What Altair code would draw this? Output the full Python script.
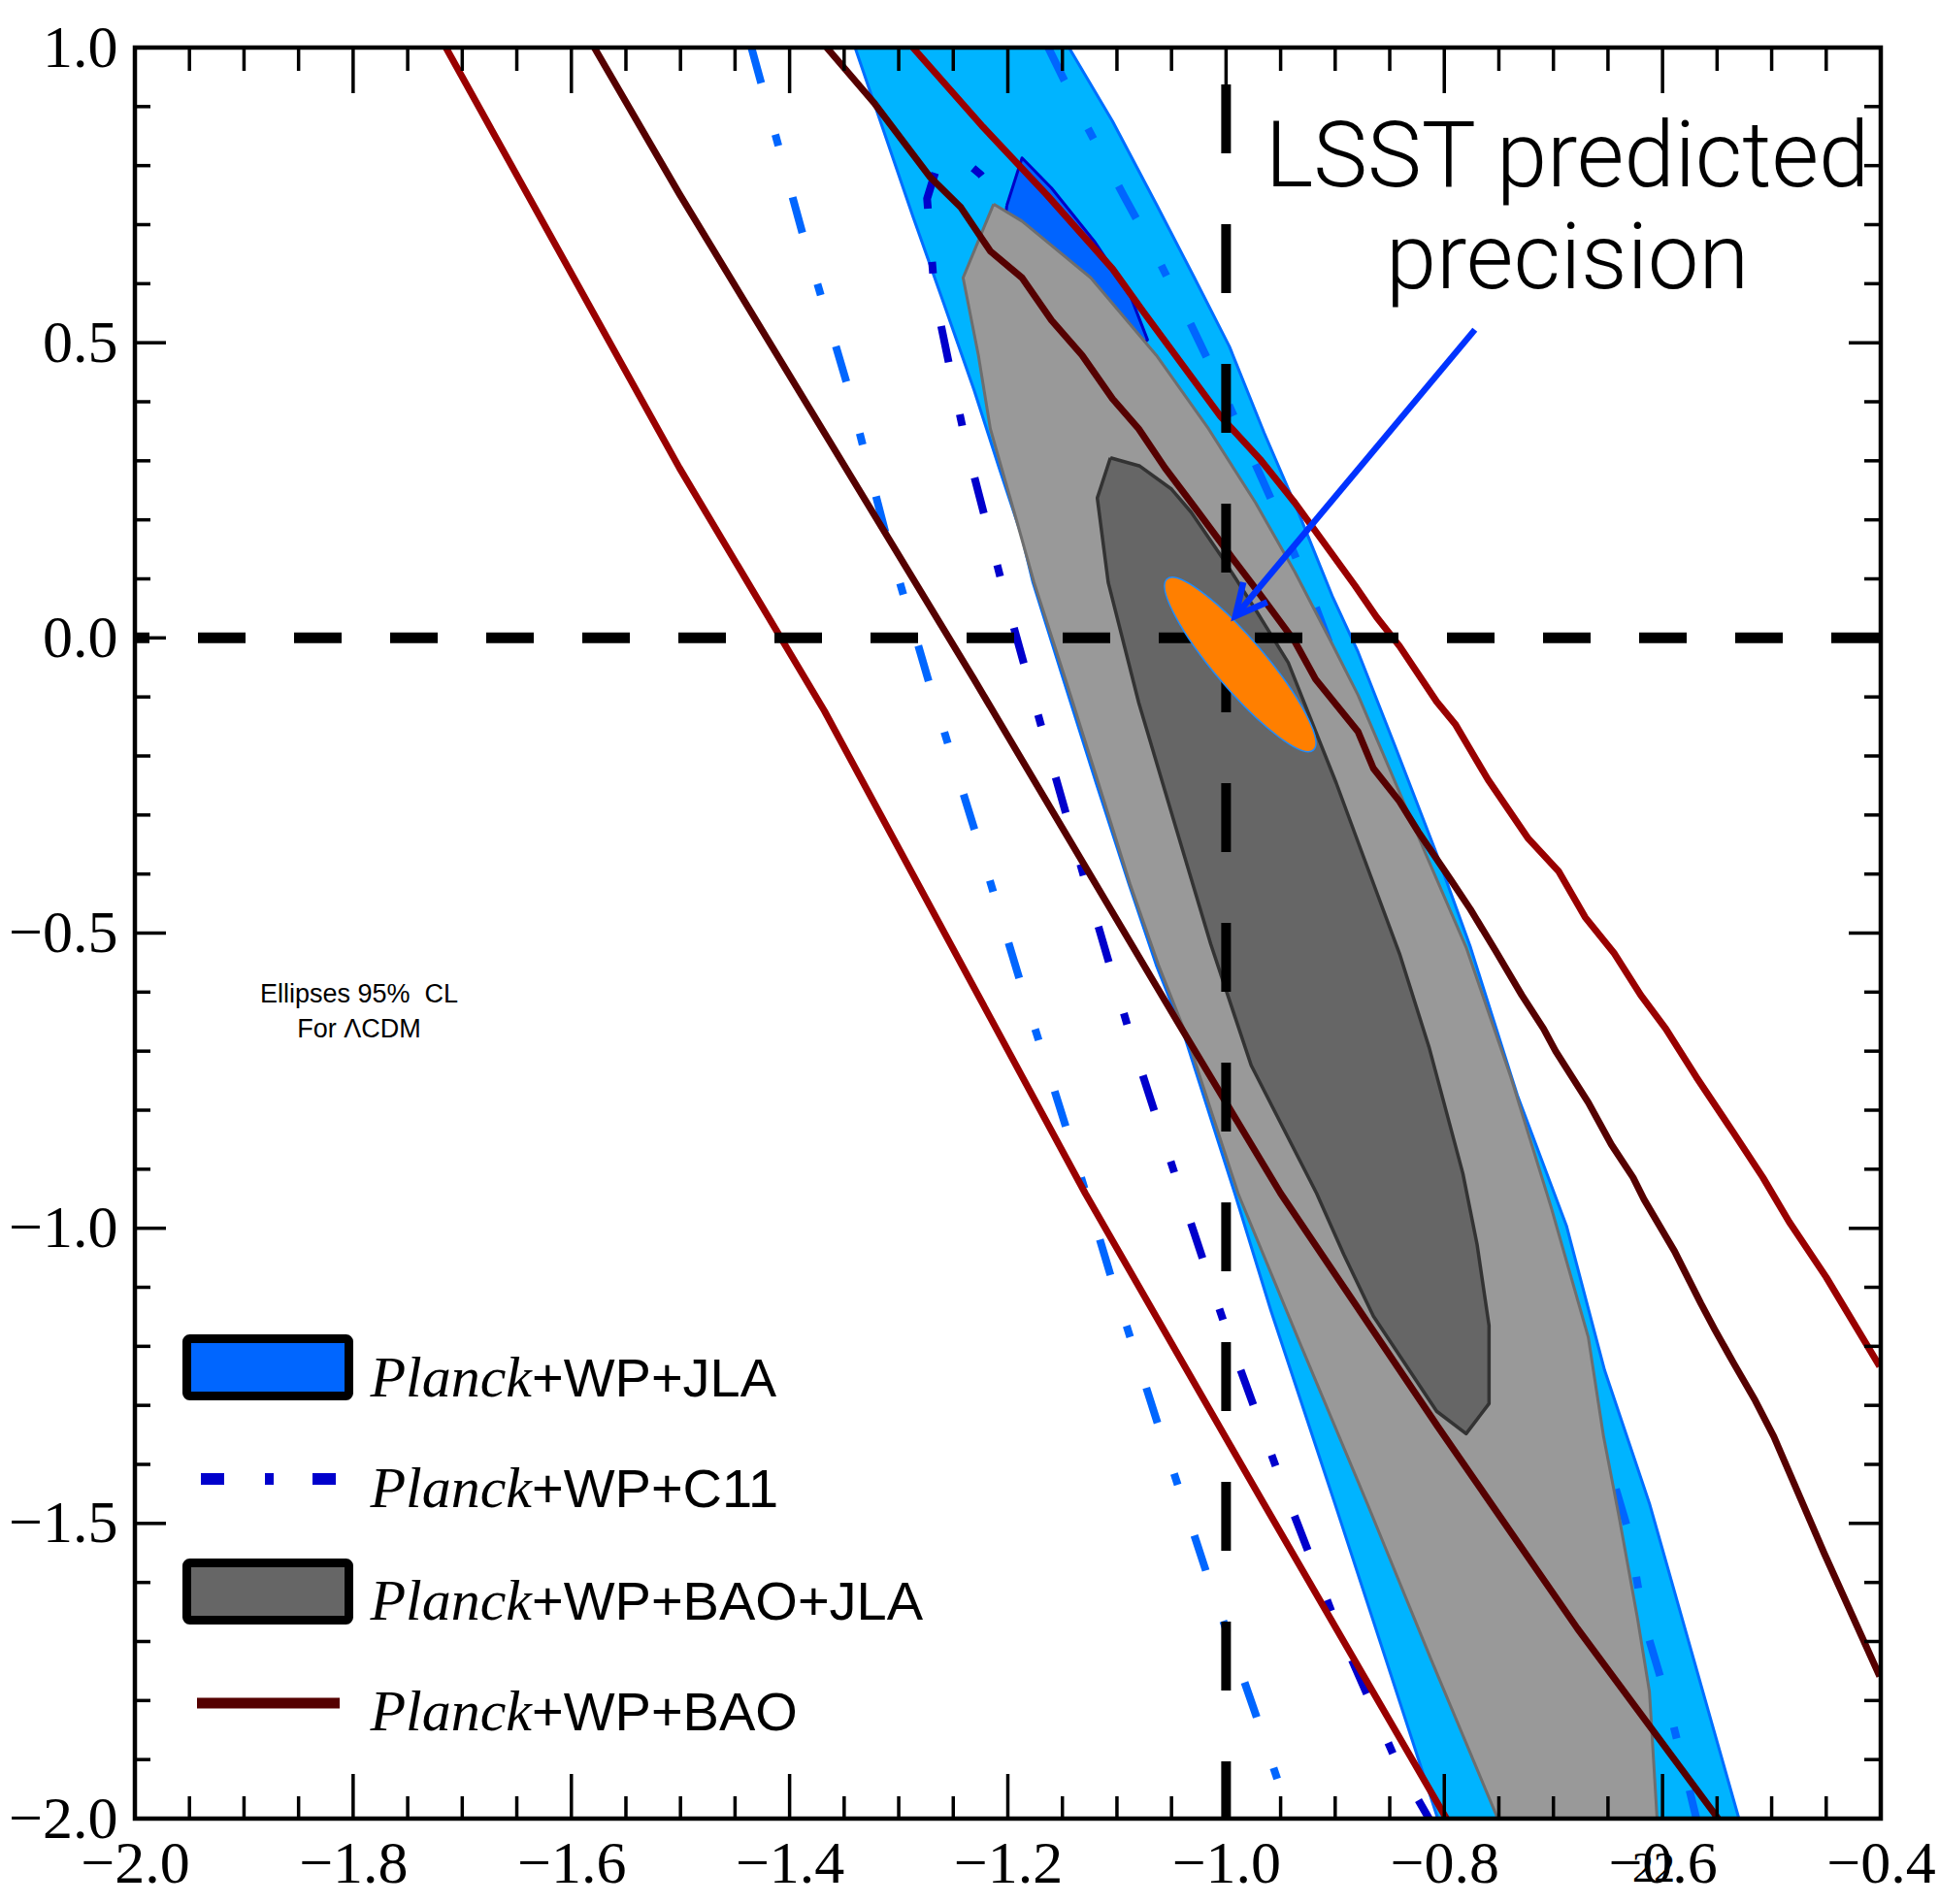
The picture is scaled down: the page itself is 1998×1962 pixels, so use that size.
import altair as alt
import pandas as pd

# ---------------- values (x = w0, y = wa) ----------------
x_major = [-2.0, -1.8, -1.6, -1.4, -1.2, -1.0, -0.8, -0.6, -0.4]
x_minor = [-1.95, -1.9, -1.85, -1.75, -1.7, -1.65, -1.55, -1.5, -1.45, -1.35, -1.3, -1.25,
           -1.15, -1.1, -1.05, -0.95, -0.9, -0.85, -0.75, -0.7, -0.65, -0.55, -0.5, -0.45]
y_major = [-2.0, -1.5, -1.0, -0.5, 0.0, 0.5, 1.0]
y_minor = [-1.9, -1.8, -1.7, -1.6, -1.4, -1.3, -1.2, -1.1, -0.9, -0.8, -0.7, -0.6,
           -0.4, -0.3, -0.2, -0.1, 0.1, 0.2, 0.3, 0.4, 0.6, 0.7, 0.8, 0.9]

# Planck+WP+JLA, outer (95%) region
jla95_w0 = [-1.340, -1.314, -1.287, -1.259, -1.231, -1.208, -1.187, -1.177, -1.148, -1.119,
            -1.089, -1.064, -1.038, -0.992, -0.959, -0.900, -0.852, -0.806,
            -0.530, -0.612, -0.653, -0.688, -0.733, -0.776, -0.807, -0.845, -0.879,
            -0.902, -0.934, -0.965, -0.997, -1.029, -1.064, -1.104, -1.144, -1.340]
jla95_wa = [1.0, 0.860, 0.714, 0.568, 0.420, 0.288, 0.171, 0.094, -0.077, -0.246,
            -0.417, -0.554, -0.675, -0.941, -1.139, -1.468, -1.739, -2.0,
            -2.0, -1.466, -1.241, -0.996, -0.775, -0.524, -0.366, -0.184, -0.024,
            0.068, 0.214, 0.347, 0.494, 0.610, 0.735, 0.875, 1.0, 1.0]

# Planck+WP+JLA, inner (68%) region (visible part)
jla68_w0 = [-1.201, -1.187, -1.160, -1.120, -1.088, -1.072, -1.101, -1.181, -1.203, -1.201]
jla68_wa = [0.732, 0.813, 0.762, 0.670, 0.581, 0.505, 0.456, 0.604, 0.694, 0.732]

# Planck+WP+BAO+JLA, outer (95%) region
bj95_w0 = [-1.213, -1.187, -1.124, -1.064, -1.016, -0.973, -0.937, -0.902, -0.879, -0.817,
           -0.780, -0.739, -0.702, -0.668, -0.654, -0.640, -0.623, -0.612, -0.605,
           -0.751, -0.812, -0.870, -0.932, -0.989, -1.036, -1.062, -1.088, -1.117,
           -1.146, -1.176, -1.192, -1.216, -1.227, -1.241, -1.213]
bj95_wa = [0.735, 0.706, 0.610, 0.479, 0.354, 0.229, 0.112, -0.013, -0.097, -0.366,
           -0.524, -0.744, -0.965, -1.185, -1.353, -1.487, -1.660, -1.785, -2.0,
           -2.0, -1.731, -1.469, -1.196, -0.941, -0.675, -0.554, -0.417, -0.246,
           -0.077, 0.094, 0.199, 0.354, 0.479, 0.610, 0.735]

# Planck+WP+BAO+JLA, inner (68%) region
bj68_w0 = [-1.106, -1.079, -1.050, -1.032, -1.001, -0.972, -0.943, -0.899, -0.875, -0.841,
           -0.814, -0.783, -0.770, -0.759, -0.759, -0.780, -0.807, -0.865, -0.892, -0.917,
           -0.977, -1.014, -1.047, -1.080, -1.108, -1.118, -1.106]
bj68_wa = [0.305, 0.291, 0.252, 0.213, 0.129, 0.045, -0.042, -0.246, -0.366, -0.535,
           -0.693, -0.907, -1.027, -1.165, -1.297, -1.348, -1.310, -1.149, -1.045, -0.941,
           -0.724, -0.519, -0.315, -0.110, 0.094, 0.237, 0.305]

# Planck+WP+C11 contours (dash-dot)
c11_95a_w0 = [-1.435, -1.388, -1.348, -1.311, -1.272, -1.230, -1.189, -1.146, -1.105,
              -1.063, -1.018, -0.972, -0.941]
c11_95a_wa = [1.0, 0.684, 0.434, 0.170, -0.077, -0.328, -0.580, -0.833, -1.085,
              -1.329, -1.583, -1.828, -2.0]
c11_95b_w0 = [-1.163, -1.128, -1.094, -1.064, -1.032, -1.007, -0.950, -0.921, -0.896, -0.861,
              -0.807, -0.754, -0.701, -0.665, -0.631, -0.617, -0.597, -0.578, -0.569]
c11_95b_wa = [1.0, 0.868, 0.750, 0.648, 0.530, 0.434, 0.199, 0.068, -0.054, -0.218,
              -0.481, -0.777, -1.089, -1.303, -1.515, -1.667, -1.791, -1.931, -2.0]
c11_68_w0 = [-1.181, -1.203, -1.225, -1.248, -1.264, -1.274, -1.267, -1.253, -1.237, -1.201,
             -1.163, -1.124, -1.084, -1.040, -0.996, -0.948, -0.898, -0.843, -0.814]
c11_68_wa = [0.653, 0.735, 0.785, 0.821, 0.804, 0.744, 0.581, 0.456, 0.318, 0.061,
             -0.192, -0.445, -0.697, -0.948, -1.193, -1.436, -1.675, -1.907, -2.0]

# Planck+WP+BAO contours (solid red lines)
bao95a_w0 = [-1.715, -1.501, -1.368, -1.129, -0.965, -0.798]
bao95a_wa = [1.0, 0.288, -0.124, -0.941, -1.468, -2.0]
bao68a_w0 = [-1.579, -1.501, -1.231, -1.043, -0.950, -0.806, -0.678, -0.549]
bao68a_wa = [1.0, 0.752, -0.070, -0.655, -0.941, -1.336, -1.678, -2.0]
bao95b_w0 = [-1.287, -1.224, -1.164, -1.104, -1.076, -1.005, -0.969, -0.937, -0.882, -0.862,
             -0.841, -0.807, -0.790, -0.760, -0.723, -0.695, -0.671, -0.644, -0.620, -0.597,
             -0.569, -0.535, -0.508, -0.484, -0.450, -0.401]
bao95b_wa = [1.0, 0.868, 0.750, 0.625, 0.553, 0.375, 0.303, 0.229, 0.089, 0.035,
             -0.014, -0.108, -0.146, -0.240, -0.340, -0.396, -0.473, -0.535, -0.605, -0.662,
             -0.744, -0.838, -0.914, -0.989, -1.083, -1.234]
bao68b_w0 = [-1.366, -1.322, -1.271, -1.243, -1.216, -1.187, -1.160, -1.132, -1.104, -1.080,
             -1.056, -1.029, -0.997, -0.969, -0.937, -0.918, -0.879, -0.865, -0.841, -0.824,
             -0.794, -0.776, -0.753, -0.729, -0.709, -0.698, -0.668, -0.647, -0.627, -0.617,
             -0.589, -0.565, -0.552, -0.535, -0.515, -0.498, -0.452, -0.401]
bao68b_wa = [1.0, 0.905, 0.780, 0.729, 0.655, 0.610, 0.538, 0.479, 0.405, 0.354,
             0.288, 0.222, 0.142, 0.074, -0.006, -0.070, -0.159, -0.221, -0.277, -0.328,
             -0.410, -0.460, -0.530, -0.605, -0.662, -0.700, -0.787, -0.858, -0.914, -0.951,
             -1.039, -1.127, -1.172, -1.228, -1.292, -1.353, -1.550, -1.759]

# LSST forecast ellipse centre and arrow end points
lsst_w0 = [-0.987]
lsst_wa = [-0.045]
arrow_w0 = [-0.772, -0.9915]
arrow_wa = [0.522, 0.037]

# reference lines (LCDM)
ref_w0 = [-1.0]
ref_wa = [0.0]

legend_prefix = "Planck"
legend_suffix = ["+WP+JLA", "+WP+C11", "+WP+BAO+JLA", "+WP+BAO"]
note_text = "Ellipses 95%\u00a0 CL\nFor \u039bCDM"
lsst_text = "LSST predicted\nprecision"

# ---------------- chart ----------------
W, H = 1799, 1825
SX = alt.Scale(domain=[-2.0, -0.4], nice=False, zero=False)
SY = alt.Scale(domain=[-2.0, 1.0], nice=False, zero=False)
AXX = alt.Axis(values=x_major, format=".1f", ticks=False, tickSize=0, domain=False, grid=False,
               labelFont="Liberation Serif", labelFontSize=62, labelColor="black",
               labelPadding=16, labelFlush=False, labelOverlap=False, title=None)
AXY = alt.Axis(values=y_major, format=".1f", ticks=False, tickSize=0, domain=False, grid=False,
               labelFont="Liberation Serif", labelFontSize=62, labelColor="black",
               labelPadding=18, labelFlush=False, labelOverlap=False, title=None)


def XE():
    return alt.X("w0:Q", scale=SX, axis=AXX)


def YE():
    return alt.Y("wa:Q", scale=SY, axis=AXY)


def pts(xs, ys):
    return pd.DataFrame({"w0": xs, "wa": ys, "i": list(range(len(xs)))})


def polygon(xs, ys, fill, stroke, sw):
    return alt.Chart(pts(xs, ys)).mark_line(
        fill=fill, stroke=stroke, strokeWidth=sw, clip=True, strokeJoin="round"
    ).encode(x=XE(), y=YE(), order="i:Q")


def curve(xs, ys, color, sw, dash=None):
    kw = dict(stroke=color, strokeWidth=sw, clip=True, strokeJoin="round")
    if dash is not None:
        kw["strokeDash"] = dash
    return alt.Chart(pts(xs, ys)).mark_line(**kw).encode(x=XE(), y=YE(), order="i:Q")


one = pd.DataFrame({"k": [0]})
layers = []

# filled JLA region and its inner part
layers.append(polygon(jla95_w0, jla95_wa, "#00B4FF", "#006EFF", 3))
layers.append(polygon(jla68_w0, jla68_wa, "#0064FF", "#0000C8", 3))
# C11 dash-dot contours
DD = [38, 55, 12, 55]
layers.append(curve(c11_95a_w0, c11_95a_wa, "#0066FF", 8, DD))
layers.append(curve(c11_95b_w0, c11_95b_wa, "#0066FF", 8, DD))
layers.append(curve(c11_68_w0, c11_68_wa, "#0000CC", 8, DD))
# BAO+JLA regions
layers.append(polygon(bj95_w0, bj95_wa, "#999999", "#6E6E6E", 3))
layers.append(polygon(bj68_w0, bj68_wa, "#666666", "#333333", 3.5))
# BAO lines
layers.append(curve(bao95a_w0, bao95a_wa, "#990000", 7))
layers.append(curve(bao95b_w0, bao95b_wa, "#990000", 7))
layers.append(curve(bao68a_w0, bao68a_wa, "#550000", 7))
layers.append(curve(bao68b_w0, bao68b_wa, "#550000", 7))

# LCDM dashed lines
ref_df = pd.DataFrame({"w0": ref_w0, "wa": ref_wa})
layers.append(alt.Chart(ref_df).mark_rule(color="black", strokeWidth=11, strokeDash=[49, 50],
                                          strokeDashOffset=-2, clip=True).encode(y=YE()))
layers.append(alt.Chart(ref_df).mark_rule(color="black", strokeWidth=10, strokeDash=[71, 73],
                                          strokeDashOffset=106, clip=True).encode(x=XE()))

# LSST ellipse (symbol path)
ELL = ("M1,0C1,0.124,0.552,0.224,0,0.224C-0.552,0.224,-1,0.124,-1,0"
       "C-1,-0.124,-0.552,-0.224,0,-0.224C0.552,-0.224,1,-0.124,1,0Z")
layers.append(alt.Chart(pts(lsst_w0, lsst_wa)).mark_point(
    shape=ELL, size=53824, angle=49.5, filled=True, fill="#FF7F00", stroke="#1E8CFF",
    strokeWidth=1.5, opacity=1).encode(x=XE(), y=YE()))

# arrow
layers.append(curve(arrow_w0, arrow_wa, "#0033FF", 6.5))
layers.append(alt.Chart(pts(arrow_w0[1:], arrow_wa[1:])).mark_point(
    shape="M-0.5,1L0,0L0.5,1", size=4096, angle=220, filled=False, stroke="#0033FF",
    strokeWidth=6.5, opacity=1, strokeJoin="miter").encode(x=XE(), y=YE()))

# annotations
layers.append(alt.Chart(pd.DataFrame({"t": [lsst_text]})).mark_text(
    font="Roboto", fontWeight=300, fontSize=94, lineBreak="\n", lineHeight=105,
    align="center", baseline="alphabetic", color="black").encode(
    text="t:N", x=alt.value(1476), y=alt.value(143)))
layers.append(alt.Chart(pd.DataFrame({"t": [note_text]})).mark_text(
    font="Liberation Sans", fontSize=27, lineBreak="\n", lineHeight=36,
    align="center", baseline="alphabetic", color="black").encode(
    text="t:N", x=alt.value(231), y=alt.value(984)))
layers.append(alt.Chart(pd.DataFrame({"t": ["22"]})).mark_text(
    font="Liberation Serif", fontSize=44, align="center", baseline="alphabetic",
    color="black").encode(text="t:N", x=alt.value(1565), y=alt.value(1890)))

# legend
text_base = [1390, 1504, 1620, 1734]
for k, suf in enumerate(legend_suffix):
    d = pd.DataFrame({"p": [legend_prefix], "s": [suf]})
    layers.append(alt.Chart(d).mark_text(
        font="Liberation Serif", fontStyle="italic", fontSize=60, align="right",
        baseline="alphabetic", color="black").encode(
        text="p:N", x=alt.value(409), y=alt.value(text_base[k])))
    layers.append(alt.Chart(d).mark_text(
        font="Liberation Sans", fontSize=56, align="left",
        baseline="alphabetic", color="black").encode(
        text="s:N", x=alt.value(409), y=alt.value(text_base[k])))

layers.append(alt.Chart(one).mark_rect(fill="#0066FF", stroke="black", strokeWidth=9,
                                       cornerRadius=3).encode(
    x=alt.value(53.5), x2=alt.value(220.5), y=alt.value(1330.5), y2=alt.value(1389.5)))
layers.append(alt.Chart(one).mark_rect(fill="#666666", stroke="black", strokeWidth=9,
                                       cornerRadius=3).encode(
    x=alt.value(53.5), x2=alt.value(220.5), y=alt.value(1561.5), y2=alt.value(1620.5)))
layers.append(alt.Chart(one).mark_rule(color="#0000CC", strokeWidth=12,
                                       strokeDash=[24, 42, 9, 40]).encode(
    x=alt.value(68), x2=alt.value(207), y=alt.value(1475)))
layers.append(alt.Chart(one).mark_rule(color="#550000", strokeWidth=11).encode(
    x=alt.value(64), x2=alt.value(211), y=alt.value(1706)))

# inward ticks on all four sides
xmaj = pd.DataFrame({"w0": x_major})
xmin = pd.DataFrame({"w0": x_minor})
ymaj = pd.DataFrame({"wa": y_major})
ymin = pd.DataFrame({"wa": y_minor})
TW = 3.5
layers.append(alt.Chart(xmaj).mark_rule(color="black", strokeWidth=TW).encode(
    x=XE(), y=alt.value(0), y2=alt.value(47)))
layers.append(alt.Chart(xmaj).mark_rule(color="black", strokeWidth=TW).encode(
    x=XE(), y=alt.value(H - 46), y2=alt.value(H)))
layers.append(alt.Chart(xmin).mark_rule(color="black", strokeWidth=TW).encode(
    x=XE(), y=alt.value(0), y2=alt.value(24)))
layers.append(alt.Chart(xmin).mark_rule(color="black", strokeWidth=TW).encode(
    x=XE(), y=alt.value(H - 23), y2=alt.value(H)))
layers.append(alt.Chart(ymaj).mark_rule(color="black", strokeWidth=TW).encode(
    y=YE(), x=alt.value(0), x2=alt.value(32)))
layers.append(alt.Chart(ymaj).mark_rule(color="black", strokeWidth=TW).encode(
    y=YE(), x=alt.value(W - 33), x2=alt.value(W)))
layers.append(alt.Chart(ymin).mark_rule(color="black", strokeWidth=TW).encode(
    y=YE(), x=alt.value(0), x2=alt.value(16)))
layers.append(alt.Chart(ymin).mark_rule(color="black", strokeWidth=TW).encode(
    y=YE(), x=alt.value(W - 17), x2=alt.value(W)))

# frame on top
layers.append(alt.Chart(one).mark_rect(fill="transparent", stroke="black", strokeWidth=4.5).encode(
    x=alt.value(0), x2=alt.value(W), y=alt.value(0), y2=alt.value(H)))

chart = alt.layer(*layers).properties(
    width=W, height=H,
    padding={"left": 139, "top": 49, "right": 60, "bottom": 88},
    autosize=alt.AutoSizeParams(type="none"),
).configure_view(stroke=None).configure(background="white")

chart.save("out.html", embed_options={"renderer": "svg", "actions": False})
